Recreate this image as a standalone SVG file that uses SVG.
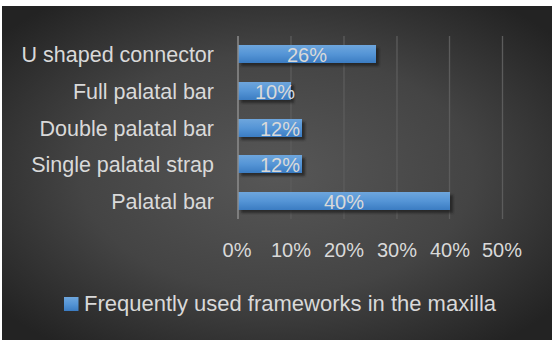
<svg xmlns="http://www.w3.org/2000/svg" width="552" height="341" viewBox="0 0 552 341">
<defs>
<radialGradient id="bg" cx="50%" cy="50%" r="65%" fx="50%" fy="50%">
<stop offset="0" stop-color="#575757"/>
<stop offset="0.55" stop-color="#444444"/>
<stop offset="1" stop-color="#232323"/>
</radialGradient>
<linearGradient id="bar" x1="0" y1="0" x2="0" y2="1">
<stop offset="0" stop-color="#6ea6dd"/>
<stop offset="0.5" stop-color="#5595d6"/>
<stop offset="1" stop-color="#3b7cc2"/>
</linearGradient>
<filter id="sh" x="-10%" y="-30%" width="130%" height="180%">
<feGaussianBlur stdDeviation="1.2"/>
</filter>
<style>
.lbl{font-family:"Liberation Sans",Arial,sans-serif;font-size:21.5px;fill:#d9d9d9;text-anchor:end}
.val{font-family:"Liberation Sans",Arial,sans-serif;font-size:20px;fill:#d9d9d9;text-anchor:middle}
.tick{font-family:"Liberation Sans",Arial,sans-serif;font-size:20px;fill:#d9d9d9;text-anchor:middle}
.leg{font-family:"Liberation Sans",Arial,sans-serif;font-size:22px;fill:#d9d9d9}
.grid{stroke:#5c5c5c;stroke-width:1.3}
.bar{fill:url(#bar)}
.shadow{fill:#1e1e1e;opacity:0.7;filter:url(#sh)}
</style>
</defs>
<rect x="0" y="0" width="552" height="341" fill="#ffffff"/>
<rect x="2" y="6" width="550" height="334" fill="url(#bg)"/>
<g id="gridlines">
<line class="grid" x1="291" y1="36" x2="291" y2="219"/>
<line class="grid" x1="344" y1="36" x2="344" y2="219"/>
<line class="grid" x1="397" y1="36" x2="397" y2="219"/>
<line class="grid" x1="449.5" y1="36" x2="449.5" y2="219"/>
<line class="grid" x1="502.5" y1="36" x2="502.5" y2="219"/>
</g>
<g id="bar-u-shaped">
<rect class="shadow" x="241" y="48" width="138" height="18"/>
<rect class="bar" x="238" y="45" width="138" height="18"/>
<text class="val" x="307" y="62">26%</text>
<text class="lbl" x="214" y="62">U shaped connector</text>
</g>
<g id="bar-full-palatal">
<rect class="shadow" x="241" y="85" width="53" height="18"/>
<rect class="bar" x="238" y="82" width="53" height="18"/>
<text class="val" x="275" y="99">10%</text>
<text class="lbl" x="214" y="99">Full palatal bar</text>
</g>
<g id="bar-double-palatal">
<rect class="shadow" x="241" y="122" width="64" height="18"/>
<rect class="bar" x="238" y="119" width="64" height="18"/>
<text class="val" x="280" y="136">12%</text>
<text class="lbl" x="214" y="136">Double palatal bar</text>
</g>
<g id="bar-single-strap">
<rect class="shadow" x="241" y="158" width="64" height="18"/>
<rect class="bar" x="238" y="155" width="64" height="18"/>
<text class="val" x="280" y="172">12%</text>
<text class="lbl" x="214" y="172">Single palatal strap</text>
</g>
<g id="bar-palatal">
<rect class="shadow" x="241" y="195" width="212" height="18"/>
<rect class="bar" x="238" y="192" width="212" height="18"/>
<text class="val" x="344" y="209">40%</text>
<text class="lbl" x="214" y="209">Palatal bar</text>
</g>
<g id="axis">
<line x1="238" y1="36" x2="238" y2="219" stroke="#8c8c8c" stroke-width="1.5"/>
<text class="tick" x="237" y="257">0%</text>
<text class="tick" x="291" y="257">10%</text>
<text class="tick" x="344" y="257">20%</text>
<text class="tick" x="397" y="257">30%</text>
<text class="tick" x="450" y="257">40%</text>
<text class="tick" x="502" y="257">50%</text>
</g>
<g id="legend">
<rect x="64" y="297" width="14.5" height="14" class="bar"/>
<text class="leg" x="84" y="311">Frequently used frameworks in the maxilla</text>
</g>
</svg>
